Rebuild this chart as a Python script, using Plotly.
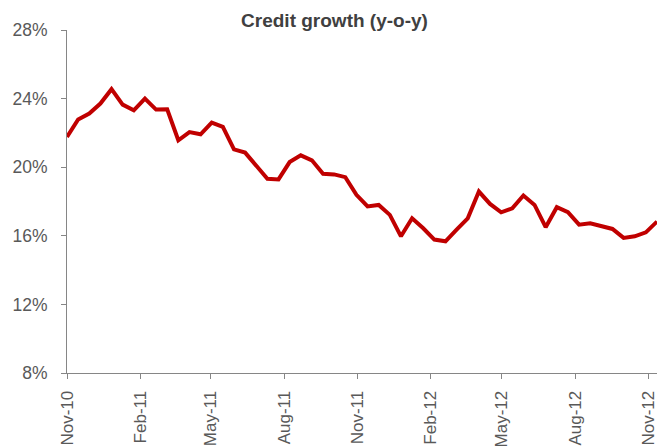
import plotly.graph_objects as go

dates = [
    "2010-11-05", "2010-11-19", "2010-12-03", "2010-12-17", "2010-12-31",
    "2011-01-14", "2011-01-28", "2011-02-11", "2011-02-25", "2011-03-11",
    "2011-03-25", "2011-04-08", "2011-04-22", "2011-05-06", "2011-05-20",
    "2011-06-03", "2011-06-17", "2011-07-01", "2011-07-15", "2011-07-29",
    "2011-08-12", "2011-08-26", "2011-09-09", "2011-09-23", "2011-10-07",
    "2011-10-21", "2011-11-04", "2011-11-18", "2011-12-02", "2011-12-16",
    "2011-12-30", "2012-01-13", "2012-01-27", "2012-02-10", "2012-02-24",
    "2012-03-09", "2012-03-23", "2012-04-06", "2012-04-20", "2012-05-04",
    "2012-05-18", "2012-06-01", "2012-06-15", "2012-06-29", "2012-07-13",
    "2012-07-27", "2012-08-10", "2012-08-24", "2012-09-07", "2012-09-21",
    "2012-10-05", "2012-10-19", "2012-11-02", "2012-11-16",
]

credit_growth = [
    21.76, 22.78, 23.13, 23.71, 24.55, 23.65, 23.32, 24.00, 23.36, 23.38,
    21.57, 22.05, 21.92, 22.60, 22.35, 21.04, 20.85, 20.10, 19.33, 19.29,
    20.30, 20.69, 20.40, 19.62, 19.58, 19.42, 18.39, 17.71, 17.80, 17.22,
    15.97, 17.02, 16.44, 15.78, 15.68, 16.36, 17.02, 18.58, 17.86, 17.37,
    17.60, 18.35, 17.80, 16.50, 17.67, 17.38, 16.65, 16.73, 16.56, 16.40,
    15.88, 15.97, 16.20, 16.83,
]

tick_dates = [
    "2010-11-05", "2011-02-05", "2011-05-05", "2011-08-05", "2011-11-05",
    "2012-02-05", "2012-05-05", "2012-08-05", "2012-11-05",
]
tick_labels = [
    "Nov-10", "Feb-11", "May-11", "Aug-11", "Nov-11",
    "Feb-12", "May-12", "Aug-12", "Nov-12",
]
y_ticks = [8, 12, 16, 20, 24, 28]
y_tick_labels = ["8%", "12%", "16%", "20%", "24%", "28%"]

font_family = "Liberation Sans, Arial, sans-serif"

fig = go.Figure()
fig.add_trace(go.Scatter(
    x=dates, y=credit_growth, mode="lines",
    line=dict(color="#C00000", width=4),
    showlegend=False, hoverinfo="skip",
))

fig.update_layout(
    width=669, height=448,
    margin=dict(l=67, r=12, t=30, b=75, autoexpand=False),
    paper_bgcolor="white", plot_bgcolor="white",
    font=dict(family=font_family, color="#595959", size=17),
    title=dict(
        text="<b>Credit growth (y-o-y)</b>",
        x=0.5, xanchor="center", y=0.955, yanchor="middle",
        font=dict(family=font_family, size=19, color="#404040"),
    ),
    xaxis=dict(
        type="date",
        range=[dates[0], dates[-1]],
        tickmode="array",
        tickvals=tick_dates, ticktext=tick_labels,
        tickangle=-90,
        automargin=False,
        showgrid=False, zeroline=False,
        showline=True, linecolor="#868686", linewidth=1,
        ticks="outside", ticklen=5, tickcolor="#868686",
        ticklabelstandoff=5,
        tickfont=dict(family=font_family, size=17, color="#595959"),
    ),
    yaxis=dict(
        range=[8, 28],
        tickmode="array",
        tickvals=y_ticks, ticktext=y_tick_labels,
        automargin=False,
        showgrid=False, zeroline=False,
        showline=True, linecolor="#868686", linewidth=1,
        ticks="outside", ticklen=5, tickcolor="#868686",
        ticklabelstandoff=10,
        tickfont=dict(family=font_family, size=17.5, color="#595959"),
    ),
)

fig.write_html(
    "out.html",
    config={"displayModeBar": False},
    post_script="document.body.style.margin='0';document.body.style.padding='0';",
)
